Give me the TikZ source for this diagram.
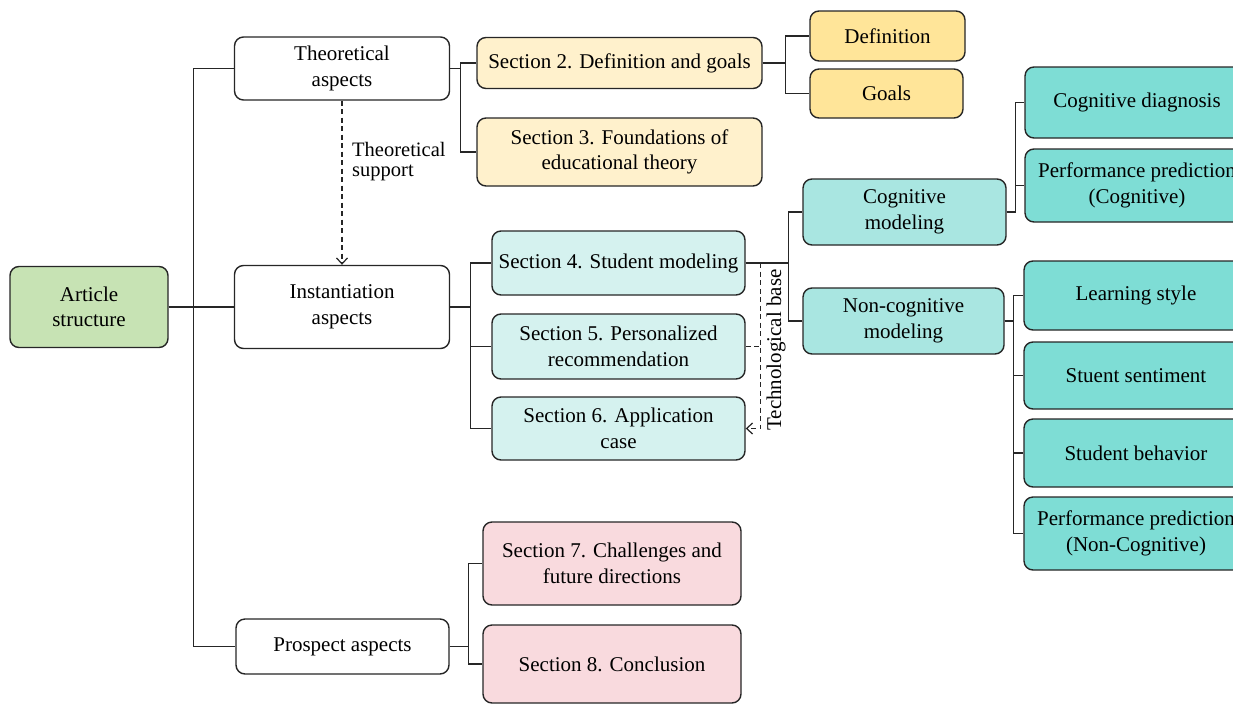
\documentclass[tikz,border=0pt]{standalone}
\usepackage{fontspec}
\setmainfont{Liberation Serif}
\usepackage{tikz}
\usetikzlibrary{positioning}
\usetikzlibrary{arrows.meta}
\definecolor{rootgreen}{RGB}{199,227,180}
\definecolor{theorylight}{RGB}{255,241,204}
\definecolor{theorygold}{RGB}{255,229,153}
\definecolor{instlight}{RGB}{213,242,239}
\definecolor{instmid}{RGB}{169,230,225}
\definecolor{insttop}{RGB}{126,221,213}
\definecolor{prospectpink}{RGB}{249,218,222}
\tikzstyle{box}=[draw=black!85,rounded corners=9pt,line width=1.4pt,align=center,inner sep=2pt,font=\fontsize{21}{25.5}\selectfont]
\tikzstyle{link} = [draw,black!85,line width=1.3pt]
\tikzstyle{supportedge} = [draw,black!85,line width=1.2pt,dash pattern=on 5pt off 3.5pt,-{Straight Barb[length=6pt,width=11pt]}]
\tikzstyle{supportline} = [draw,black!85,line width=1.2pt,dash pattern=on 5pt off 3.5pt]
\tikzstyle{note} = [font=\fontsize{20.5}{20}\selectfont,align=left,inner sep=0pt]

\begin{document}
\begin{tikzpicture}[x=1pt,y=-1pt]
    \useasboundingbox (0,0) rectangle (1233,704);
    \clip (0,0) rectangle (1233,704);

    % First we draw the root and the three aspects
    \node[box, fill=rootgreen, minimum width=158pt, minimum height=81pt] (AS) at (89,307) {Article\\structure};
    \foreach \pos/\name/\w/\h/\label in {{(342,68.5)/TA/215/63/{Theoretical\\aspects}}, {(342,307)/IA/215/83/{Instantiation\\aspects}}, {(342.5,646.5)/PA/213/55/{Prospect aspects}}}
        \node[box, fill=white, minimum width=\w pt, minimum height=\h pt] (\name) at \pos {\label};

    % Theoretical sections
    \foreach \pos/\name/\w/\h/\label in {{(619.5,63)/S2/285/51/{Section 2. Definition and goals}}, {(619.5,152)/S3/285/68/{Section 3. Foundations of\\educational theory}}}
        \node[box, fill=theorylight, minimum width=\w pt, minimum height=\h pt] (\name) at \pos {\label};
    \foreach \pos/\name/\w/\h/\label in {{(887.5,36)/DF/155/50/{Definition}}, {(886.5,93.5)/GO/153/49/{Goals}}}
        \node[box, fill=theorygold, minimum width=\w pt, minimum height=\h pt] (\name) at \pos {\label};

    % Instantiation sections
    \foreach \pos/\name/\w/\h/\label in {{(618.5,263)/S4/253/64/{Section 4. Student modeling}}, {(618.5,346.5)/S5/253/65/{Section 5. Personalized\\recommendation}}, {(618.5,428.5)/S6/253/63/{Section 6. Application\\case}}}
        \node[box, fill=instlight, minimum width=\w pt, minimum height=\h pt] (\name) at \pos {\label};
    \foreach \pos/\name/\w/\h/\label in {{(904.5,212)/CM/203/66/{Cognitive\\modeling}}, {(903.5,321)/NM/201/66/{Non-cognitive\\modeling}}}
        \node[box, fill=instmid, minimum width=\w pt, minimum height=\h pt] (\name) at \pos {\label};
    \foreach \pos/\name/\w/\h/\label in {{(1137,102.5)/CD/224/71/{Cognitive diagnosis}}, {(1137,185.5)/PC/224/73/{Performance prediction\\(Cognitive)}}, {(1136,295.5)/LS/224/69/{Learning style}}, {(1136,375.5)/SS/224/67/{Stuent sentiment}}, {(1136,453)/SB/224/68/{Student behavior}}, {(1136,533.5)/PN/224/73/{Performance prediction\\(Non-Cognitive)}}}
        \node[box, fill=insttop, minimum width=\w pt, minimum height=\h pt] (\name) at \pos {\label};

    % Prospect sections
    \foreach \pos/\name/\w/\h/\label in {{(612,563.5)/S7/258/83/{Section 7. Challenges and\\future directions}}, {(612,664)/S8/258/78/{Section 8. Conclusion}}}
        \node[box, fill=prospectpink, minimum width=\w pt, minimum height=\h pt] (\name) at \pos {\label};

    % Connect parents with children
    \foreach \source/\dest/\dx in {AS/TA/25, AS/IA/25, AS/PA/25, TA/S2/10, TA/S3/10, S2/DF/23, S2/GO/23, IA/S4/20.5, IA/S5/20.5, IA/S6/20.5, S4/CM/43, S4/NM/43, CM/CD/9, CM/PC/9, NM/LS/9, NM/SS/9, NM/SB/9, NM/PN/9, PA/S7/19, PA/S8/19}
        \path[link] (\source.east) -- ++(\dx,0) |- (\dest.west);

    % Dashed supports
    \path[supportedge] (TA.south) -- (IA.north);
    \node[note, anchor=west] (tsupport) at (352,162) {Theoretical\\support};
    \path[supportedge] (S4.east) ++(15,0) |- (S6.east);
    \path[supportline] (S5.east) -- ++(15,0);
    \node[box, draw=none, fill=none, rotate=90, inner sep=0pt] (tbase) at (776,350) {Technological base};

\end{tikzpicture}
\end{document}
